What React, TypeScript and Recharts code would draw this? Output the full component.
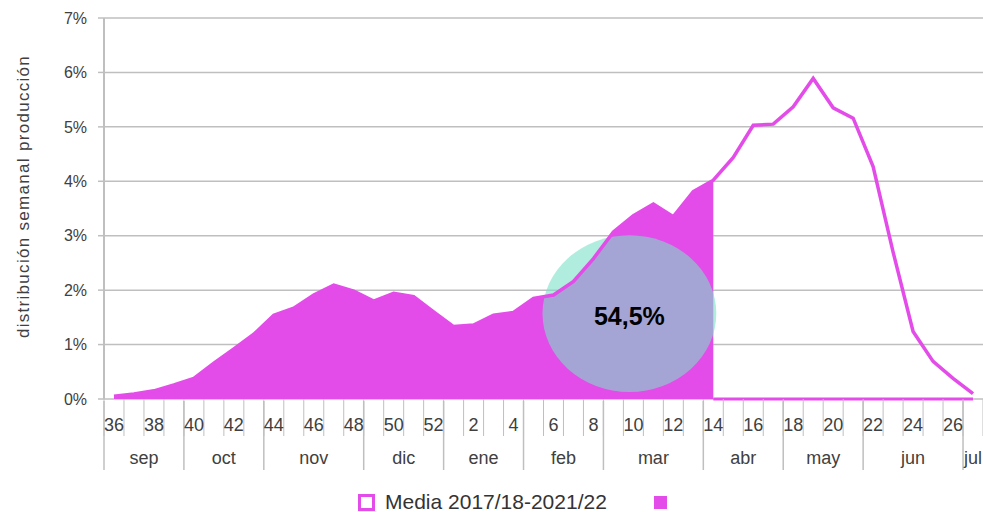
import React from 'react';
import {
  ComposedChart,
  Area,
  Line,
  XAxis,
  YAxis,
  CartesianGrid,
  ReferenceArea,
  Legend,
} from 'recharts';

// ---- data ----
const weeks = [
  36, 37, 38, 39, 40, 41, 42, 43, 44, 45, 46, 47, 48, 49, 50, 51, 52,
  1, 2, 3, 4, 5, 6, 7, 8, 9, 10, 11, 12, 13, 14, 15, 16, 17, 18, 19, 20,
  21, 22, 23, 24, 25, 26, 27,
];
const media = [
  0.05, 0.09, 0.15, 0.26, 0.38, 0.66, 0.92, 1.19, 1.54, 1.67, 1.91, 2.09, 1.98,
  1.8, 1.94, 1.88, 1.6,
  1.33, 1.36, 1.54, 1.59, 1.85, 1.91, 2.16, 2.58, 3.07, 3.37, 3.58, 3.35, 3.81,
  4.02, 4.44, 5.03, 5.05, 5.37, 5.89, 5.35, 5.16, 4.27, 2.7, 1.24, 0.69, 0.38,
  0.1,
];
const CUTOFF_WEEK = 14;
const months = ['sep', 'oct', 'nov', 'dic', 'ene', 'feb', 'mar', 'abr', 'may', 'jun', 'jul'];
const monthWeeks = [4, 4, 5, 4, 4, 4, 5, 4, 4, 5, 1];
const yTicks = [0, 1, 2, 3, 4, 5, 6, 7];
const legendLabel = 'Media 2017/18-2021/22';
const shareLabel = '54,5%';
const yTitle = 'distribución semanal producción';
// bubble extent in data units (week index, %)
const bubbleX = [21.45, 30.15];
const bubbleY = [0.13, 3.01];

// ---- derived ----
const cutIdx = weeks.indexOf(CUTOFF_WEEK);
const data = weeks.map((w, i) => ({
  i,
  week: w,
  media: media[i],
  filled: i <= cutIdx ? media[i] : null,
  zero: i >= cutIdx ? 0 : null,
}));
const weekBounds = weeks.map((_, i) => i - 0.5).concat([weeks.length - 0.5]);
const weekLabelTicks = weeks.map((_, i) => i).filter((i) => i % 2 === 0);
const monthStarts: number[] = [];
monthWeeks.reduce((acc, n) => {
  monthStarts.push(acc);
  return acc + n;
}, 0);
const monthBounds = monthStarts.map((s) => s - 0.5);
const monthCenters = monthStarts.map((s, k) => s + (monthWeeks[k] - 1) / 2);

const MAGENTA = '#E34CE8';
const GRID = '#BFBFBF';
const TEXT = '#404040';
const FONT = 'Liberation Sans, Arial, sans-serif';
const DOMAIN: [number, number] = [-0.5, weeks.length - 0.5];

const BubbleShape = (props: any) => {
  const { x, y, width, height } = props;
  return (
    <ellipse
      cx={x + width / 2}
      cy={y + height / 2}
      rx={width / 2}
      ry={height / 2}
      fill="#7BE1C8"
      fillOpacity={0.6}
      stroke="none"
    />
  );
};

const NoLabel = () => null;

const LegendContent = () => (
  <div
    style={{
      display: 'flex',
      alignItems: 'center',
      height: 26,
      fontFamily: FONT,
      fontSize: 21,
      color: '#333',
      whiteSpace: 'nowrap',
    }}
  >
    <span
      style={{
        display: 'inline-block',
        width: 17,
        height: 17,
        boxSizing: 'border-box',
        border: `3.5px solid ${MAGENTA}`,
        background: '#fff',
        marginRight: 10,
      }}
    />
    <span style={{ lineHeight: '26px' }}>{legendLabel}</span>
    <span
      style={{
        display: 'inline-block',
        width: 13,
        height: 13,
        background: MAGENTA,
        marginLeft: 47,
      }}
    />
  </div>
);

export default function App() {
  return (
    <div style={{ position: 'absolute', left: 0, top: 0, background: '#fff' }}>
      <ComposedChart
        width={983}
        height={512}
        data={data}
        margin={{ top: 18, right: 0, bottom: 109, left: 0 }}
      >
        <CartesianGrid vertical={false} stroke={GRID} strokeWidth={1.5} />
        <XAxis
          type="number"
          dataKey="i"
          domain={DOMAIN}
          ticks={weekBounds}
          interval={0}
          tick={NoLabel}
          tickSize={37}
          height={1}
          axisLine={false}
          tickLine={{ stroke: GRID, strokeWidth: 1 }}
        />
        <XAxis
          xAxisId="wlbl"
          type="number"
          dataKey="i"
          domain={DOMAIN}
          ticks={weekLabelTicks}
          interval={0}
          tickFormatter={(v: number) => String(weeks[v])}
          tickSize={0}
          tickMargin={16}
          height={1}
          axisLine={false}
          tickLine={false}
          tick={{ fontSize: 18, fill: TEXT, fontFamily: FONT }}
        />
        <XAxis
          xAxisId="msep"
          type="number"
          dataKey="i"
          domain={DOMAIN}
          ticks={monthBounds}
          interval={0}
          tick={NoLabel}
          tickSize={69}
          height={1}
          axisLine={false}
          tickLine={{ stroke: GRID, strokeWidth: 1.5 }}
        />
        <XAxis
          xAxisId="mlbl"
          type="number"
          dataKey="i"
          domain={DOMAIN}
          ticks={monthCenters}
          interval={0}
          tickFormatter={(v: number) => months[monthCenters.indexOf(v)] ?? ''}
          tickSize={0}
          tickMargin={51}
          height={1}
          axisLine={false}
          tickLine={false}
          tick={{ fontSize: 18, fill: TEXT, fontFamily: FONT }}
        />
        <YAxis
          width={104}
          domain={[0, 7]}
          ticks={yTicks}
          interval={0}
          tickFormatter={(v: number) => `${v}%`}
          tickSize={6}
          tickMargin={11}
          axisLine={{ stroke: GRID, strokeWidth: 2 }}
          tickLine={{ stroke: GRID, strokeWidth: 1.5 }}
          tick={{ fontSize: 16, fill: TEXT, fontFamily: FONT }}
          label={{
            content: (p: any) => {
              const vb = p.viewBox || { x: 0, y: 18, width: 104, height: 381 };
              const cx = vb.x + 23;
              const cy = vb.y + vb.height / 2 - 12;
              return (
                <text
                  x={cx}
                  y={cy}
                  transform={`rotate(-90, ${cx}, ${cy})`}
                  textAnchor="middle"
                  dominantBaseline="central"
                  fontSize={17}
                  letterSpacing={1.3}
                  fill={TEXT}
                  fontFamily={FONT}
                >
                  {yTitle}
                </text>
              );
            },
          }}
        />
        <Area
          dataKey="filled"
          type="linear"
          stroke="none"
          fill={MAGENTA}
          fillOpacity={1}
          connectNulls={false}
          isAnimationActive={false}
          legendType="none"
        />
        <Line
          dataKey="zero"
          type="linear"
          stroke={MAGENTA}
          strokeWidth={3}
          dot={false}
          connectNulls={false}
          isAnimationActive={false}
          legendType="none"
        />
        <Line
          dataKey="media"
          type="linear"
          stroke={MAGENTA}
          strokeWidth={3.5}
          dot={false}
          isAnimationActive={false}
          legendType="none"
        />
        <ReferenceArea
          x1={bubbleX[0]}
          x2={bubbleX[1]}
          y1={bubbleY[0]}
          y2={bubbleY[1]}
          shape={BubbleShape}
          ifOverflow="visible"
          label={{
            value: shareLabel,
            position: 'center',
            fill: '#000',
            fontSize: 25,
            fontWeight: 700,
            fontFamily: FONT,
            dy: 3,
          }}
        />
        <Legend
          layout="horizontal"
          verticalAlign="middle"
          align="center"
          wrapperStyle={{ top: 489, left: 358, width: 'auto', height: 26 }}
          content={() => <LegendContent />}
        />
      </ComposedChart>
    </div>
  );
}
